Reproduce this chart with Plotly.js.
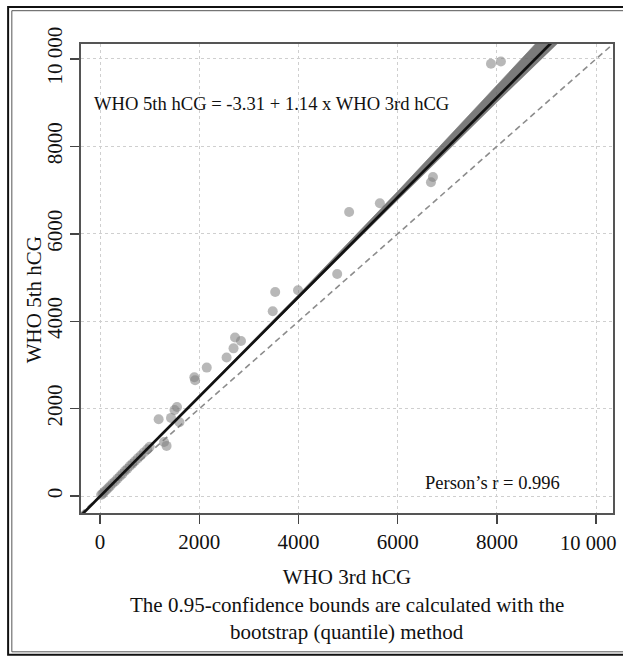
<!DOCTYPE html>
<html>
<head>
<meta charset="utf-8">
<script src="https://cdn.plot.ly/plotly-3.0.1.min.js"></script>
<style>html,body{margin:0;padding:0;background:#fff;}#chart{width:623px;height:657px;}</style>
</head>
<body>
<div id="chart"></div>
<script>
// Measurements: WHO 3rd hCG (x) vs WHO 5th hCG (y)
const who3rd = [20, 50, 80, 120, 160, 200, 250, 300, 350, 400, 450, 500, 550, 600, 650, 700, 760, 820, 880, 950, 1000,
  1180, 1290, 1340, 1430, 1500, 1550, 1600, 1900, 1915, 2150, 2550, 2690, 2720, 2840, 3480, 3530, 3990, 4780, 5020, 5640, 6670, 6710, 7880, 8080];
const who5th = [25, 55, 95, 135, 180, 225, 290, 335, 400, 455, 510, 575, 625, 690, 740, 800, 865, 930, 1000, 1070, 1130,
  1760, 1240, 1150, 1790, 1970, 2040, 1690, 2720, 2650, 2940, 3170, 3380, 3630, 3550, 4230, 4670, 4710, 5080, 6500, 6700, 7180, 7300, 9890, 9940];

// Fitted regression: WHO 5th = intercept + slope * WHO 3rd
const intercept = -3.31;
const slope = 1.14;
const fitX = [-400, 9400];

// 0.95 bootstrap confidence band
const bandX = [0, 2000, 4000, 6000, 8000, 9400];
const bandLower = [-10, 2260, 4515, 6765, 9005, 10540];
const bandUpper = [10, 2305, 4610, 6970, 9380, 11100];

// Identity line
const idX = [-400, 10400];

const tickVals = [0, 2000, 4000, 6000, 8000, 10000];
const xTickText = ['0', '2000', '4000', '6000', '8000', '10 000'];
const yTickText = ['0', '2000', '4000', '6000', '8000', '10 000'];

const serif = 'Liberation Serif, Times New Roman, serif';
const axRange = [-385, 10340];

const traces = [
  {x: idX, y: idX, mode: 'lines', line: {color: '#8c8c8c', width: 1.6, dash: '6px,4px'}, hoverinfo: 'skip', showlegend: false},
  {x: who3rd, y: who5th, mode: 'markers', marker: {color: 'rgba(125,125,125,0.55)', size: 10, line: {width: 0}}, showlegend: false},
  {x: bandX, y: bandLower, mode: 'lines', line: {width: 0, color: 'rgba(0,0,0,0)'}, hoverinfo: 'skip', showlegend: false},
  {x: bandX, y: bandUpper, mode: 'lines', fill: 'tonexty', fillcolor: 'rgba(100,100,100,0.85)', line: {width: 0.8, color: 'rgba(120,120,120,0.8)'}, hoverinfo: 'skip', showlegend: false},
  {x: fitX, y: fitX.map(v => intercept + slope * v), mode: 'lines', line: {color: '#111', width: 2.7}, hoverinfo: 'skip', showlegend: false}
];

const axisCommon = {
  range: axRange,
  tickmode: 'array',
  tickvals: tickVals,
  ticks: 'outside',
  ticklen: 9,
  tickwidth: 1.5,
  tickcolor: '#444',
  showline: true,
  linecolor: '#555',
  linewidth: 1.6,
  mirror: true,
  showgrid: true,
  gridcolor: '#cfcfcf',
  gridwidth: 1,
  griddash: 'dot',
  zeroline: false,
  tickfont: {family: serif, size: 21, color: '#111'}
};

const layout = {
  width: 623,
  height: 657,
  margin: {l: 81, r: 10, t: 44, b: 144},
  paper_bgcolor: '#fff',
  plot_bgcolor: '#fff',
  font: {family: serif, color: '#111'},
  xaxis: Object.assign({}, axisCommon, {
    ticktext: xTickText.slice(0, 5).concat(['']),
    title: {text: 'WHO 3rd hCG', font: {family: serif, size: 21, color: '#111'}, standoff: 16}
  }),
  yaxis: Object.assign({}, axisCommon, {
    ticktext: yTickText,
    tickangle: -90
  }),
  annotations: [
    // last x tick label, kept inside the page edge as in the reference
    {xref: 'paper', yref: 'paper', x: 537 / 532, y: -0.063, xanchor: 'right', yanchor: 'middle', showarrow: false,
     text: xTickText[5], font: {family: serif, size: 20.5, color: '#111'}},
    {xref: 'paper', yref: 'paper', x: -0.088, y: 0.454, xanchor: 'center', yanchor: 'middle', textangle: -90, showarrow: false,
     text: 'WHO 5th hCG', font: {family: serif, size: 21, color: '#111'}},
    {xref: 'paper', yref: 'paper', x: 0.02, y: 0.874, xanchor: 'left', yanchor: 'middle', showarrow: false,
     text: 'WHO 5th hCG = -3.31 + 1.14 x WHO 3rd hCG', font: {family: serif, size: 18.6, color: '#111'}},
    {xref: 'paper', yref: 'paper', x: 0.643, y: 0.064, xanchor: 'left', yanchor: 'middle', showarrow: false,
     text: 'Person\u2019s r = 0.996', font: {family: serif, size: 18.5, color: '#111'}},
    {xref: 'paper', yref: 'paper', x: 0.5, y: -0.196, xanchor: 'center', yanchor: 'middle', showarrow: false,
     text: 'The 0.95-confidence bounds are calculated with the', font: {family: serif, size: 21, color: '#111'}},
    {xref: 'paper', yref: 'paper', x: 0.5, y: -0.2537, xanchor: 'center', yanchor: 'middle', showarrow: false,
     text: 'bootstrap (quantile) method', font: {family: serif, size: 21, color: '#111'}}
  ],
  shapes: [
    {type: 'rect', xref: 'paper', yref: 'paper', x0: -0.137, x1: 1.1, y0: -0.302, y1: 1.079,
     line: {color: '#111', width: 2}, layer: 'above'},
    {type: 'rect', xref: 'paper', yref: 'paper', x0: -0.130, x1: 1.1, y0: -0.296, y1: 1.071,
     line: {color: '#555', width: 1}, layer: 'above'}
  ]
};

Plotly.newPlot('chart', traces, layout, {displayModeBar: false, staticPlot: true});
</script>
</body>
</html>
